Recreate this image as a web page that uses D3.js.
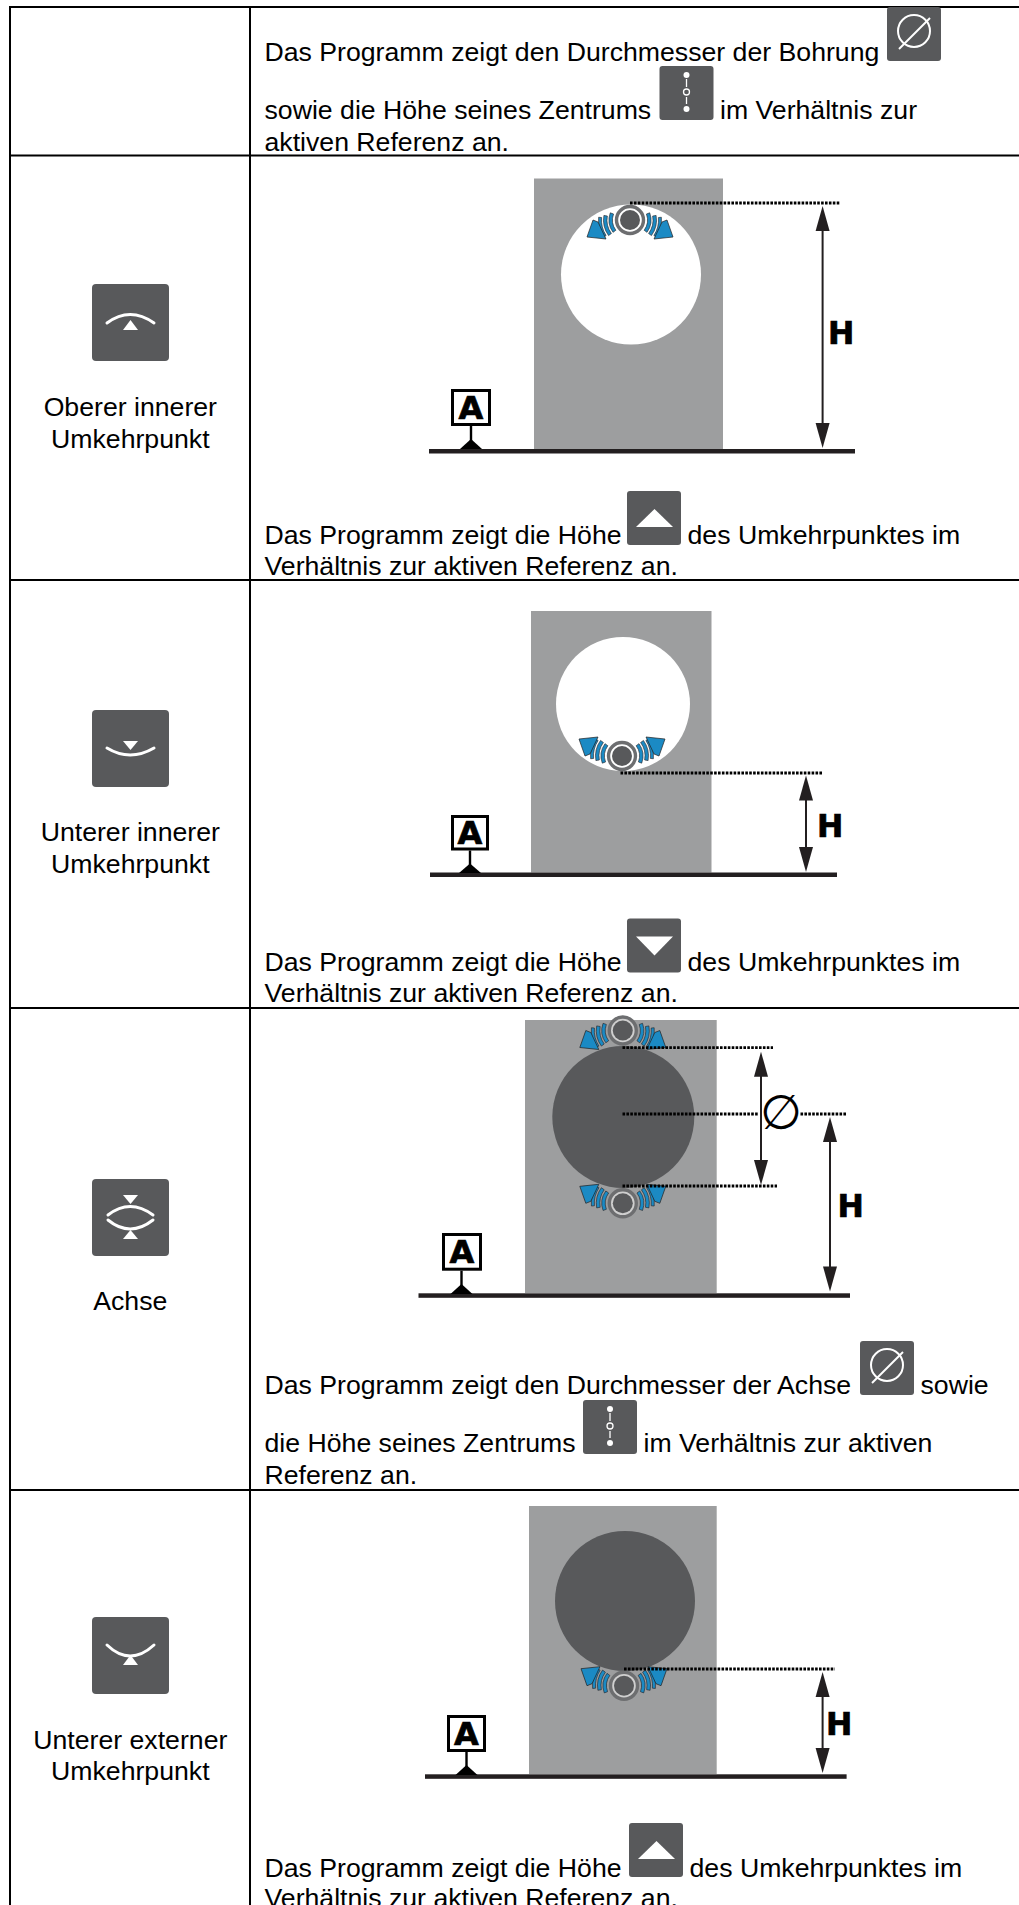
<!DOCTYPE html>
<html><head><meta charset="utf-8">
<script src="https://cdn.jsdelivr.net/npm/d3@7"></script>
<style>html,body{margin:0;padding:0;background:#fff;overflow:hidden}svg{display:block}
text{font-family:"Liberation Sans",Arial,sans-serif;fill:#000}
.heavy{font-family:"DejaVu Sans";font-weight:bold;fill:#000;stroke:#000;stroke-width:.7}</style></head><body>
<script>
const W = 1019, H = 1905;
const rowEdges = [7, 155.5, 580, 1008, 1490, 1960];
const rowLabels = [[], ["Oberer innerer","Umkehrpunkt"], ["Unterer innerer","Umkehrpunkt"], ["Achse"], ["Unterer externer","Umkehrpunkt"]];
const rowIcons = [null, "topInner", "bottomInner", "axis", "bottomOuter"];
const bodyRuns = [
 [["Das Programm zeigt den Durchmesser der Bohrung","dia"],["sowie die Höhe seines Zentrums","center","im Verhältnis zur"],["aktiven Referenz an."]],
 [["Das Programm zeigt die Höhe","up","des Umkehrpunktes im"],["Verhältnis zur aktiven Referenz an."]],
 [["Das Programm zeigt die Höhe","down","des Umkehrpunktes im"],["Verhältnis zur aktiven Referenz an."]],
 [["Das Programm zeigt den Durchmesser der Achse","dia","sowie"],["die Höhe seines Zentrums","center","im Verhältnis zur aktiven"],["Referenz an."]],
 [["Das Programm zeigt die Höhe","up","des Umkehrpunktes im"],["Verhältnis zur aktiven Referenz an."]]
];
const dimLetter = "H", refLetter = "A", diaLetter = "\u2205";

const dark = "#58595b", grey = "#9d9e9f", ink = "#231f20", blue = "#1b8ac4", fs = 26.67;
const svg = d3.select("body").append("svg").attr("width",W).attr("height",H);
const rad = d3.scaleLinear().domain([0,360]).range([0,2*Math.PI]);
const arc = d3.arc();
const line = d3.line();
const colX = d3.scaleOrdinal().domain(["left","split"]).range([10,250]);

// table grid
svg.append("g").selectAll("line").data(rowEdges.slice(0,-1)).join("line")
  .attr("x1",colX("left")).attr("x2",W).attr("y1",d=>d).attr("y2",d=>d).attr("stroke","#000").attr("stroke-width",2);
svg.selectAll(".v").data(["left","split"]).join("line").attr("class","v")
  .attr("x1",d=>colX(d)).attr("x2",d=>colX(d)).attr("y1",rowEdges[0]-1).attr("y2",H).attr("stroke","#000").attr("stroke-width",2);

function poly(g,pts,fill){return g.append("path").attr("d",line(pts)+"Z").attr("fill",fill);}

function inlineIcon(x,y,kind){
  const g = svg.append("g").attr("transform",`translate(${x},${y})`);
  g.append("rect").attr("width",54).attr("height",54).attr("rx",3).attr("fill",dark);
  if(kind==="up") poly(g,[[9,36],[46,36],[27.5,18]],"#fff");
  if(kind==="down") poly(g,[[9,18],[46,18],[27.5,37]],"#fff");
  if(kind==="dia"){
    g.append("circle").attr("cx",27).attr("cy",24).attr("r",16).attr("fill","none").attr("stroke","#fff").attr("stroke-width",2);
    g.append("line").attr("x1",12).attr("y1",42).attr("x2",43).attr("y2",11).attr("stroke","#fff").attr("stroke-width",2);
  }
  if(kind==="center"){
    g.append("circle").attr("cx",27).attr("cy",9).attr("r",3).attr("fill","#fff");
    g.append("circle").attr("cx",27).attr("cy",43).attr("r",3).attr("fill","#fff");
    g.append("circle").attr("cx",27).attr("cy",26).attr("r",3).attr("fill","none").attr("stroke","#fff").attr("stroke-width",1.3);
    g.append("line").attr("x1",27).attr("x2",27).attr("y1",13).attr("y2",21).attr("stroke","#fff").attr("stroke-width",1.3);
    g.append("line").attr("x1",27).attr("x2",27).attr("y1",31).attr("y2",38).attr("stroke","#fff").attr("stroke-width",1.3);
  }
}
const bodyLayout = [
 [[60.5,[887,7]],[119,[659.5,66]],[150.5]],
 [[544,[627,491]],[575]],
 [[971,[627,918.5]],[1002]],
 [[1393.5,[860,1341]],[1452,[583,1400]],[1483.5]],
 [[1876.5,[629,1823]],[1907]]
];
bodyRuns.forEach((lines,r)=>lines.forEach((run,l)=>{
  const [base,ic] = bodyLayout[r][l];
  svg.append("text").attr("x",264.5).attr("y",base).attr("font-size",fs).text(run[0]);
  if(run[1]){ inlineIcon(ic[0],ic[1],run[1]);
    if(run[2]) svg.append("text").attr("x",ic[0]+60.5).attr("y",base).attr("font-size",fs).text(run[2]); }
}));

// row labels
const labelBase = [[],[415.5,447.5],[841,872.5],[1310],[1749,1779.5]];
rowLabels.forEach((ls,r)=>ls.forEach((t,l)=>svg.append("text").attr("x",130.3).attr("y",labelBase[r][l]).attr("text-anchor","middle").attr("font-size",fs).text(t)));

// side icons
function sideIcon(top,kind){
  const g = svg.append("g").attr("transform",`translate(92,${top})`);
  g.append("rect").attr("width",77).attr("height",77).attr("rx",4).attr("fill",dark);
  const curve=(d)=>g.append("path").attr("d",d).attr("fill","none").attr("stroke","#fff").attr("stroke-width",3).attr("stroke-linecap","round");
  if(kind==="topInner"){curve("M15 39Q38 22 62 39");poly(g,[[31,46],[46,46],[38.5,36]],"#fff");}
  if(kind==="bottomInner"){curve("M15 38Q38 52 62 38");poly(g,[[31,31],[46,31],[38.5,40]],"#fff");}
  if(kind==="axis"){curve("M16 36Q38 19 61 36");curve("M16 41Q38 59 61 41");poly(g,[[31,16],[46,16],[38.5,25]],"#fff");poly(g,[[31,60],[46,60],[38.5,51]],"#fff");}
  if(kind==="bottomOuter"){curve("M15 28Q38 50 62 28");poly(g,[[31,48],[46,48],[38.5,38]],"#fff");}
}
[null,284,710,1179,1617].forEach((t,i)=>{ if(t) sideIcon(t,rowIcons[i]); });

// touch-probe glyph: sy=1 arcs above the stylus, sy=-1 below
function probe(cx,cy,sy,halo){
  const g = svg.append("g").attr("transform",`translate(${cx},${cy}) scale(1,${sy})`);
  [-1,1].forEach(sx=>{
    const s = g.append("g").attr("transform",`scale(${sx},1)`);
    [[17.5,21,-20,36],[23,26.5,-10,36],[28.5,31.5,-5,33]].forEach(([r0,r1,a0,a1])=>{
      s.append("path").attr("d",arc({innerRadius:r0,outerRadius:r1,startAngle:rad(270-a0),endAngle:rad(270-a1)}))
        .attr("fill",blue).attr("stroke",ink).attr("stroke-width",.6);
    });
    poly(s,[[-37,0],[-32,2],[-24,19],[-43,17]],blue).attr("stroke",ink).attr("stroke-width",.7);
  });
  g.append("circle").attr("r",13.5).attr("fill",halo).attr("stroke","#6d6e70").attr("stroke-width",3.4);
  g.append("circle").attr("r",10).attr("fill",dark);
}
function dotted(x1,x2,y){svg.append("line").attr("x1",x1).attr("x2",x2).attr("y1",y).attr("y2",y).attr("stroke","#000").attr("stroke-width",2.8).attr("stroke-dasharray","2.6 1.3");}
function dimArrow(x,y1,y2){
  svg.append("line").attr("x1",x).attr("x2",x).attr("y1",y1+8).attr("y2",y2-8).attr("stroke",ink).attr("stroke-width",2);
  poly(svg,[[x,y1],[x-7,y1+25],[x+7,y1+25]],ink);
  poly(svg,[[x,y2],[x-7,y2-25],[x+7,y2-25]],ink);
}
function ref(x0,x1,y0,y1,stemX,triY,baseY){
  svg.append("rect").attr("x",x0+1.5).attr("y",y0+1.5).attr("width",x1-x0-3).attr("height",y1-y0-3).attr("fill","#fff").attr("stroke","#000").attr("stroke-width",3);
  svg.append("text").attr("class","heavy").attr("x",(x0+x1)/2).attr("y",(y0+y1)/2+11.5).attr("text-anchor","middle").attr("font-size",32).text(refLetter);
  svg.append("line").attr("x1",stemX).attr("x2",stemX).attr("y1",y1).attr("y2",triY+2).attr("stroke","#000").attr("stroke-width",2.4);
  poly(svg,[[stemX,triY],[stemX-11,baseY],[stemX+11,baseY]],"#000");
}
function letterH(x,yb){svg.append("text").attr("class","heavy").attr("x",x).attr("y",yb).attr("font-size",31.5).text(dimLetter);}
function block(x0,x1,y0,y1){svg.append("rect").attr("x",x0).attr("y",y0).attr("width",x1-x0).attr("height",y1-y0).attr("fill",grey);}
function ground(x0,x1,y){svg.append("rect").attr("x",x0).attr("y",y).attr("width",x1-x0).attr("height",4.5).attr("fill",ink);}
function bore(cx,cy,r,fill){svg.append("circle").attr("cx",cx).attr("cy",cy).attr("r",r).attr("fill",fill);}

// row 2
block(534,723,178.5,449); bore(631,274.5,70,"#fff"); probe(630,220,1,"#fff"); dotted(630,840,203);
ground(429,855,449); dimArrow(822.6,206,448); letterH(828,344); ref(451,491,389,426,471,439,449);
// row 3
block(531,711.5,611,872.5); bore(623,704,67,"#fff"); probe(622,756,-1,"#fff"); dotted(620.5,822,773);
ground(430,837,872.5); dimArrow(806,775.5,872); letterH(817,837); ref(451,489,815,850.5,470,863.5,873);
// row 4
block(525,716.7,1020,1293); bore(623.3,1117,71,dark); probe(622.8,1030.5,1,"#cfcfcf"); probe(622.8,1203.3,-1,"#cfcfcf");
dotted(622.5,773,1047.7); dotted(622.5,759,1114); dotted(800.5,846.6,1114); dotted(622.5,777,1186);
dimArrow(761,1051.7,1185); dimArrow(830,1117,1291.5); letterH(837.5,1217);
svg.append("text").attr("x",781).attr("y",1129).attr("text-anchor","middle").style("font-family","DejaVu Sans").attr("font-size",48).text(diaLetter);
ground(418.5,850,1293.3); ref(442,482,1233,1270.7,461.5,1284,1294);
// row 5
block(529,716.7,1506,1774); bore(625,1601,70,dark); probe(624,1685.7,-1,"#cfcfcf"); dotted(624,835,1669);
ground(425,846.6,1774.3); dimArrow(822.6,1672,1773); letterH(826,1735); ref(447,486,1715,1752,466.5,1765,1775);
</script></body></html>
